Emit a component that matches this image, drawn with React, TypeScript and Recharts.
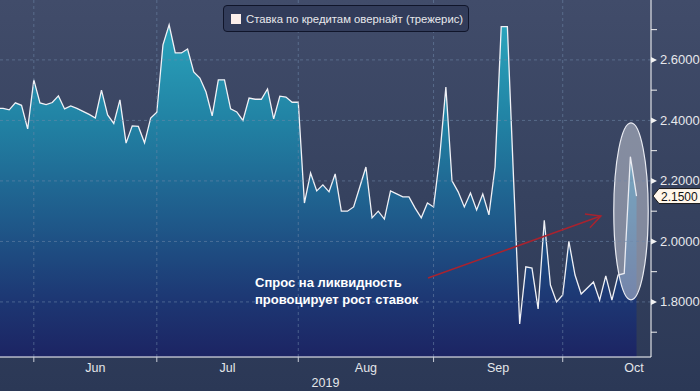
import React from 'react';
import { AreaChart, Area, XAxis, YAxis, ReferenceLine, ReferenceArea, Legend } from 'recharts';

// trading-day index (0 = late May 2019)
const dayIndex = [
  0, 1, 2, 3, 4, 5, 6, 7, 8, 9, 10, 11, 12, 13, 14, 15, 16, 17, 18, 19,
  20, 21, 22, 23, 24, 25, 26, 27, 28, 29, 30, 31, 32, 33, 34, 35, 36, 37, 38, 39,
  40, 41, 42, 43, 44, 45, 46, 47, 48, 49, 50, 51, 52, 53, 54, 55, 56, 57, 58, 59,
  60, 61, 62, 63, 64, 65, 66, 67, 68, 69, 70, 71, 72, 73, 74, 75, 76, 77, 78, 79,
  80, 81, 82, 83, 84, 85, 86, 87, 88, 89, 90, 91, 92, 93, 94, 95, 96, 97, 98, 99,
  100, 101, 102, 103, 104,
];

const rates = [
  2.44, 2.44, 2.435, 2.458, 2.45, 2.372, 2.534, 2.458, 2.452, 2.459,
  2.481, 2.438, 2.448, 2.44, 2.43, 2.42, 2.408, 2.5, 2.418, 2.39,
  2.468, 2.325, 2.382, 2.38, 2.326, 2.408, 2.427, 2.65, 2.716, 2.623,
  2.623, 2.636, 2.56, 2.54, 2.494, 2.415, 2.534, 2.534, 2.438, 2.428,
  2.4, 2.474, 2.47, 2.47, 2.504, 2.405, 2.48, 2.477, 2.46, 2.46,
  2.127, 2.226, 2.167, 2.187, 2.164, 2.223, 2.1, 2.1, 2.114, 2.18,
  2.246, 2.078, 2.1, 2.074, 2.167, 2.157, 2.147, 2.147, 2.11, 2.078,
  2.127, 2.114, 2.28, 2.51, 2.2, 2.164, 2.114, 2.16, 2.104, 2.157,
  2.088, 2.246, 2.71, 2.71, 2.21, 1.727, 1.916, 1.912, 1.777, 2.07,
  1.856, 1.8, 1.823, 2.0, 1.889, 1.826, 1.846, 1.866, 1.806, 1.886,
  1.806, 1.889, 1.894, 2.28, 2.15,
];

const monthLabels = ['Jun', 'Jul', 'Aug', 'Sep', 'Oct'];
const monthLabelPos = [16, 37.5, 60, 81.5, 103.6];
const monthBoundaries = [6, 26, 49, 71, 92];
const yearLabel = '2019';
const yMajor = [1.8, 2.0, 2.2, 2.4, 2.6];
const yMinor = [1.7, 1.9, 2.1, 2.3, 2.5, 2.7];
const seriesName = 'Ставка по кредитам овернайт (трежерис)';
const noteLines = ['Спрос на ликвидность', 'провоцирует рост ставок'];
const highlight = { x1: 100.3, x2: 105.9, y1: 1.807, y2: 2.392 };
const arrowSeg = [{ x: 70.1, y: 1.879 }, { x: 98.2, y: 2.084 }];

const data = dayIndex.map((i, k) => ({ i, rate: rates[k] }));
const lastRate = rates[rates.length - 1];

const FONT = '"Liberation Sans", Arial, sans-serif';

const renderXTick = (props: any) => {
  const { x, y, payload } = props;
  const v = payload.value;
  if (monthBoundaries.includes(v)) {
    return <line x1={x} x2={x} y1={y} y2={y + 5} stroke="#c9cdd8" strokeWidth={1} />;
  }
  const m = monthLabelPos.indexOf(v);
  return (
    <text x={x} y={y + 15} textAnchor="middle" fill="#e4e6ea" fontSize={12.5} fontFamily={FONT}>
      {monthLabels[m]}
    </text>
  );
};

const renderYTick = (props: any) => {
  const { x, y, payload } = props;
  const v = payload.value;
  if (yMajor.includes(v)) {
    return (
      <g>
        <polygon points={`${x},${y - 3} ${x + 6},${y} ${x},${y + 3}`} fill="#f2f2f2" />
        <text x={x + 9} y={y + 4.5} fill="#e6e8ec" fontSize={13} fontFamily={FONT}>
          {v.toFixed(4)}
        </text>
      </g>
    );
  }
  if (yMinor.includes(v)) {
    return <line x1={x} x2={x + 6} y1={y} y2={y} stroke="#f2f2f2" strokeWidth={1} />;
  }
  return (
    <g>
      <polygon
        points={`${x + 2},${y} ${x + 8},${y - 7.5} ${x + 50},${y - 7.5} ${x + 50},${y + 7.5} ${x + 8},${y + 7.5}`}
        fill="#fff6ea"
        stroke="#1a1a1a"
        strokeWidth={1}
      />
      <text x={x + 10} y={y + 4.5} fill="#111" fontSize={12} fontFamily={FONT}>
        {v.toFixed(4)}
      </text>
    </g>
  );
};

const renderLegend = () => (
  <div
    style={{
      boxSizing: 'border-box',
      width: 246,
      height: 27,
      border: '1px solid #10152a',
      borderRadius: 4,
      background: '#323c5a',
      display: 'flex',
      alignItems: 'center',
      paddingLeft: 7,
      fontFamily: FONT,
    }}
  >
    <span style={{ display: 'inline-block', flexShrink: 0, width: 10, height: 10, background: '#fbeeea' }} />
    <span style={{ marginLeft: 5, fontSize: 11.3, color: '#e8e8ec', whiteSpace: 'nowrap' }}>{seriesName}</span>
  </div>
);

const renderArrow = (p: any) => {
  const { x1, y1, x2, y2 } = p;
  const ang = Math.atan2(y2 - y1, x2 - x1);
  const len = 16;
  const spread = (27 * Math.PI) / 180;
  const a1 = ang + Math.PI - spread;
  const a2 = ang + Math.PI + spread;
  return (
    <g>
      <line x1={x1} y1={y1} x2={x2} y2={y2} stroke="#a8232f" strokeWidth={1.5} />
      <polyline
        points={`${x2 + len * Math.cos(a1)},${y2 + len * Math.sin(a1)} ${x2},${y2} ${x2 + len * Math.cos(a2)},${y2 + len * Math.sin(a2)}`}
        fill="none"
        stroke="#a8232f"
        strokeWidth={1.5}
      />
    </g>
  );
};

const renderEllipse = (p: any) => {
  const { x, y, width, height } = p;
  return (
    <ellipse
      cx={x + width / 2}
      cy={y + height / 2}
      rx={width / 2}
      ry={height / 2}
      fill="rgba(226,229,238,0.45)"
      stroke="#e9ebf2"
      strokeWidth={1.2}
    />
  );
};

export default function App() {
  return (
    <div
      style={{
        position: 'absolute',
        left: 0,
        top: 0,
        width: 700,
        height: 391,
        background: 'linear-gradient(180deg, #414c6a 0%, #36425f 50%, #2b3856 100%)',
        fontFamily: FONT,
        overflow: 'hidden',
      }}
    >
      <AreaChart width={700} height={391} data={data} margin={{ top: 0, right: 0, bottom: 0, left: 0 }}>
        <defs>
          <linearGradient id="areaGrad" x1="0" y1="0" x2="0" y2="1">
            <stop offset="0%" stopColor="#2aa4bc" />
            <stop offset="30%" stopColor="#2181a3" />
            <stop offset="58%" stopColor="#1f5b8b" />
            <stop offset="82%" stopColor="#1d3874" />
            <stop offset="100%" stopColor="#1c2463" />
          </linearGradient>
        </defs>
        <XAxis
          dataKey="i"
          type="number"
          domain={[0.5, 106.354]}
          allowDataOverflow
          ticks={[...monthBoundaries, ...monthLabelPos]}
          interval={0}
          tick={renderXTick}
          tickLine={false}
          tickSize={0}
          tickMargin={0}
          height={34}
          axisLine={{ stroke: '#ffffff', strokeWidth: 1 }}
          label={{ value: yearLabel, position: 'insideBottom', offset: 4, fill: '#e4e6ea', fontSize: 12.5 }}
        />
        <YAxis
          orientation="right"
          type="number"
          width={49}
          domain={[1.618, 2.798]}
          allowDataOverflow
          ticks={[...yMinor, ...yMajor, lastRate]}
          interval={0}
          tick={renderYTick}
          tickLine={false}
          tickSize={0}
          tickMargin={0}
          axisLine={{ stroke: '#ffffff', strokeWidth: 1 }}
        />
        <Legend
          verticalAlign="middle"
          align="center"
          layout="horizontal"
          wrapperStyle={{ top: 5, left: 223, width: 246, height: 27 }}
          content={renderLegend}
        />
        <Area
          type="linear"
          dataKey="rate"
          name={seriesName}
          stroke="#f0f1f6"
          strokeWidth={1.3}
          fill="url(#areaGrad)"
          fillOpacity={1}
          dot={false}
          activeDot={false}
          isAnimationActive={false}
        />
        {yMajor.map((v) => (
          <ReferenceLine key={'h' + v} y={v} stroke="#7088aa" strokeOpacity={0.55} strokeDasharray="3 3" />
        ))}
        {monthBoundaries.map((v) => (
          <ReferenceLine key={'v' + v} x={v} stroke="#7088aa" strokeOpacity={0.55} strokeDasharray="3 3" />
        ))}
        <ReferenceArea
          x1={highlight.x1}
          x2={highlight.x2}
          y1={highlight.y1}
          y2={highlight.y2}
          shape={renderEllipse}
        />
        <ReferenceLine segment={arrowSeg} shape={renderArrow} />
      </AreaChart>
      <div
        style={{
          position: 'absolute',
          left: 255,
          top: 274,
          color: '#ffffff',
          fontWeight: 'bold',
          fontSize: 13,
          lineHeight: '17px',
          whiteSpace: 'nowrap',
        }}
      >
        {noteLines.map((t) => (
          <div key={t}>{t}</div>
        ))}
      </div>
    </div>
  );
}
